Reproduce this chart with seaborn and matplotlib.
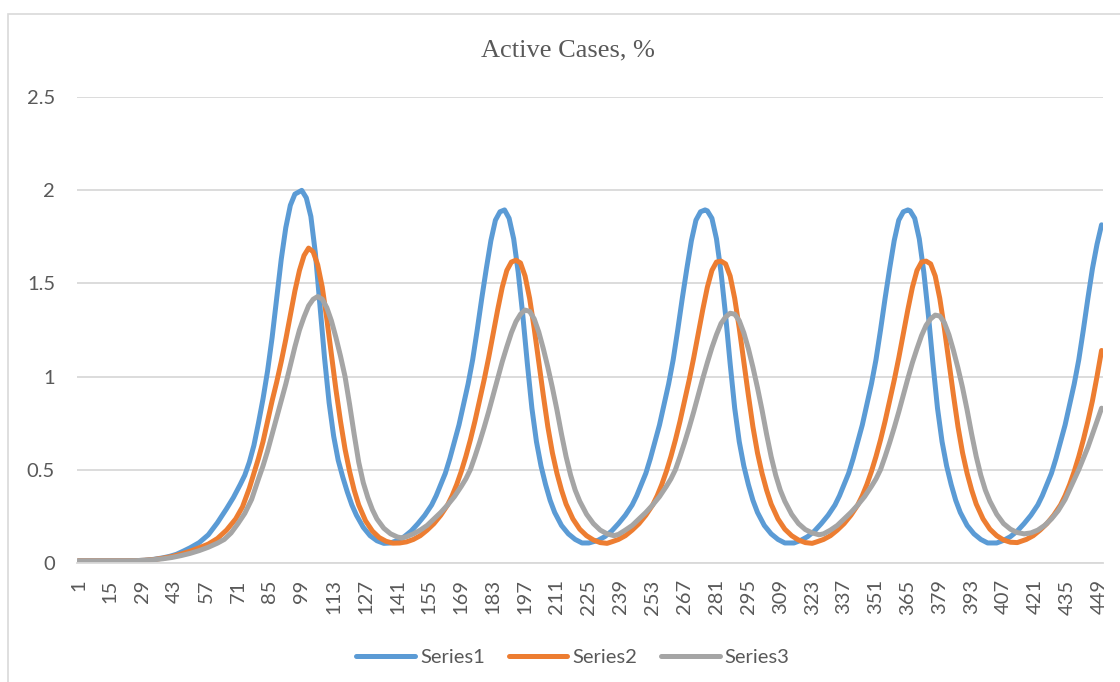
import matplotlib
matplotlib.use("Agg")
import matplotlib.pyplot as plt
from matplotlib.lines import Line2D
from matplotlib.patches import Rectangle
import pandas as pd
import seaborn as sns

# (day, active cases %) for each simulated series
series1_points = [
    (1, 0.010), (8, 0.010), (15, 0.010), (22, 0.010), (26, 0.011), (30, 0.013), (34, 0.018),
    (38, 0.026), (41, 0.034), (44, 0.045), (47, 0.062), (50, 0.080), (54, 0.108), (58, 0.150),
    (62, 0.215), (66, 0.290), (69, 0.350), (72, 0.420), (74, 0.470), (76, 0.540), (78, 0.630),
    (80, 0.750), (82, 0.880), (84, 1.030), (86, 1.210), (88, 1.420), (90, 1.630), (92, 1.800),
    (94, 1.920), (96, 1.980), (99, 2.000), (101, 1.960), (103, 1.860), (105, 1.660), (107, 1.380),
    (109, 1.100), (111, 0.860), (113, 0.680), (115, 0.550), (117, 0.460), (119, 0.380), (121, 0.310),
    (123, 0.255), (126, 0.190), (129, 0.145), (132, 0.118), (135, 0.104),
    (138, 0.106), (141, 0.120), (144, 0.140), (147, 0.170), (150, 0.210), (153, 0.255), (156, 0.310),
    (158, 0.360), (160, 0.420), (162, 0.480), (164, 0.560), (166, 0.650), (168, 0.740), (170, 0.850),
    (172, 0.960), (174, 1.090), (176, 1.250), (178, 1.420), (180, 1.580), (182, 1.730), (184, 1.840),
    (186, 1.885), (188, 1.895), (190, 1.850), (192, 1.740), (194, 1.560), (196, 1.330), (198, 1.070),
    (200, 0.830), (202, 0.650), (204, 0.520), (206, 0.420), (208, 0.335), (210, 0.270), (213, 0.200),
    (216, 0.155), (219, 0.125), (222, 0.106),
    (225, 0.106), (229, 0.120), (232, 0.140), (235, 0.170), (238, 0.210), (241, 0.255), (244, 0.310),
    (246, 0.360), (248, 0.420), (250, 0.480), (252, 0.560), (254, 0.650), (256, 0.740), (258, 0.850),
    (260, 0.960), (262, 1.090), (264, 1.250), (266, 1.420), (268, 1.580), (270, 1.730), (272, 1.840),
    (274, 1.885), (276, 1.895), (277, 1.890), (279, 1.850), (281, 1.740), (283, 1.560), (285, 1.330),
    (287, 1.070), (289, 0.830), (291, 0.650), (293, 0.520), (295, 0.420), (297, 0.335), (299, 0.270),
    (302, 0.200), (305, 0.155), (308, 0.125), (311, 0.106),
    (315, 0.106), (318, 0.120), (321, 0.140), (324, 0.170), (327, 0.210), (330, 0.255), (333, 0.310),
    (335, 0.360), (337, 0.420), (339, 0.480), (341, 0.560), (343, 0.650), (345, 0.740), (347, 0.850),
    (349, 0.960), (351, 1.090), (353, 1.250), (355, 1.420), (357, 1.580), (359, 1.730), (361, 1.840),
    (363, 1.885), (365, 1.895), (366, 1.890), (368, 1.850), (370, 1.740), (372, 1.560), (374, 1.330),
    (376, 1.070), (378, 0.830), (380, 0.650), (382, 0.520), (384, 0.420), (386, 0.335), (388, 0.270),
    (391, 0.200), (394, 0.155), (397, 0.125), (400, 0.106),
    (404, 0.106), (407, 0.120), (410, 0.140), (413, 0.170), (416, 0.210), (419, 0.255), (422, 0.310),
    (424, 0.360), (426, 0.420), (428, 0.480), (430, 0.560), (432, 0.650), (434, 0.740), (436, 0.850),
    (438, 0.960), (440, 1.090), (442, 1.250), (444, 1.420), (446, 1.580), (448, 1.710), (450, 1.815),
]

series2_points = [
    (1, 0.010), (8, 0.010), (15, 0.010), (22, 0.010), (26, 0.011), (30, 0.013), (34, 0.017),
    (38, 0.024), (42, 0.033), (46, 0.046), (50, 0.062), (54, 0.080), (58, 0.100), (62, 0.130),
    (66, 0.175), (70, 0.235), (73, 0.300), (76, 0.400), (78, 0.480), (80, 0.560), (82, 0.650),
    (84, 0.760), (86, 0.870), (88, 0.970), (90, 1.080), (92, 1.200), (94, 1.330), (96, 1.460),
    (98, 1.570), (100, 1.650), (102, 1.690), (104, 1.670), (106, 1.600), (108, 1.480), (110, 1.310),
    (112, 1.120), (114, 0.930), (116, 0.760), (118, 0.610), (120, 0.490), (122, 0.390), (124, 0.310),
    (127, 0.225), (130, 0.170), (133, 0.135), (136, 0.115), (139, 0.105),
    (142, 0.106), (145, 0.112), (148, 0.125), (151, 0.145), (154, 0.175), (157, 0.210), (160, 0.255),
    (163, 0.310), (165, 0.360), (167, 0.420), (169, 0.490), (171, 0.570), (173, 0.660), (175, 0.760),
    (177, 0.870), (179, 0.980), (181, 1.100), (183, 1.230), (185, 1.360), (187, 1.480), (189, 1.570),
    (191, 1.615), (193, 1.625), (195, 1.610), (197, 1.540), (199, 1.420), (201, 1.260), (203, 1.080),
    (205, 0.900), (207, 0.730), (209, 0.590), (211, 0.480), (213, 0.390), (215, 0.315), (218, 0.235),
    (221, 0.180), (224, 0.145), (227, 0.122), (230, 0.108), (233, 0.104),
    (235, 0.112), (238, 0.125), (241, 0.145), (244, 0.175), (247, 0.210), (250, 0.255), (253, 0.310),
    (255, 0.360), (257, 0.420), (259, 0.490), (261, 0.570), (263, 0.660), (265, 0.760), (267, 0.870),
    (269, 0.980), (271, 1.100), (273, 1.230), (275, 1.360), (277, 1.480), (279, 1.570), (281, 1.615),
    (283, 1.620), (285, 1.605), (287, 1.540), (289, 1.420), (291, 1.260), (293, 1.080), (295, 0.900),
    (297, 0.730), (299, 0.590), (301, 0.480), (303, 0.390), (305, 0.315), (308, 0.235), (311, 0.180),
    (314, 0.145), (317, 0.122), (320, 0.108), (323, 0.104),
    (325, 0.112), (328, 0.125), (331, 0.145), (334, 0.175), (337, 0.210), (340, 0.255), (343, 0.310),
    (345, 0.360), (347, 0.420), (349, 0.490), (351, 0.570), (353, 0.660), (355, 0.760), (357, 0.870),
    (359, 0.980), (361, 1.100), (363, 1.230), (365, 1.360), (367, 1.480), (369, 1.570), (371, 1.615),
    (373, 1.620), (375, 1.605), (377, 1.540), (379, 1.420), (381, 1.260), (383, 1.080), (385, 0.900),
    (387, 0.730), (389, 0.590), (391, 0.480), (393, 0.390), (395, 0.315), (398, 0.235), (401, 0.180),
    (404, 0.145), (407, 0.122), (410, 0.110), (413, 0.108),
    (417, 0.125), (420, 0.145), (423, 0.175), (426, 0.210), (429, 0.255), (432, 0.310), (434, 0.360),
    (436, 0.420), (438, 0.490), (440, 0.570), (442, 0.660), (444, 0.760), (446, 0.870), (448, 1.000),
    (450, 1.140),
]

series3_points = [
    (1, 0.010), (8, 0.010), (15, 0.010), (22, 0.010), (26, 0.011), (30, 0.013), (34, 0.016),
    (38, 0.021), (42, 0.028), (46, 0.038), (50, 0.050), (54, 0.065), (58, 0.083), (62, 0.105),
    (65, 0.125), (68, 0.160), (71, 0.210), (74, 0.265), (77, 0.340), (80, 0.450), (82, 0.520),
    (84, 0.600), (86, 0.690), (88, 0.780), (90, 0.870), (92, 0.960), (94, 1.060), (96, 1.160),
    (98, 1.250), (100, 1.320), (102, 1.380), (104, 1.415), (106, 1.430), (108, 1.415), (110, 1.370),
    (112, 1.300), (114, 1.210), (116, 1.110), (118, 1.000), (120, 0.850), (122, 0.690), (124, 0.540),
    (126, 0.430), (128, 0.350), (130, 0.285), (132, 0.235), (135, 0.185), (138, 0.155), (141, 0.138),
    (143, 0.133),
    (145, 0.140), (148, 0.155), (151, 0.175), (154, 0.200), (157, 0.235), (160, 0.270), (163, 0.310),
    (166, 0.355), (169, 0.410), (171, 0.450), (173, 0.500), (175, 0.570), (177, 0.645), (179, 0.725),
    (181, 0.810), (183, 0.900), (185, 0.990), (187, 1.080), (189, 1.160), (191, 1.235), (193, 1.295),
    (195, 1.335), (197, 1.357), (199, 1.350), (201, 1.310), (203, 1.240), (205, 1.150), (207, 1.050),
    (209, 0.940), (211, 0.820), (213, 0.690), (215, 0.570), (217, 0.470), (219, 0.390), (221, 0.330),
    (224, 0.260), (227, 0.210), (230, 0.175), (233, 0.155), (236, 0.145),
    (238, 0.152), (241, 0.175), (244, 0.200), (247, 0.235), (250, 0.270), (253, 0.310), (256, 0.355),
    (259, 0.410), (261, 0.450), (263, 0.500), (265, 0.570), (267, 0.645), (269, 0.725), (271, 0.810),
    (273, 0.900), (275, 0.990), (277, 1.075), (279, 1.155), (281, 1.225), (283, 1.285), (285, 1.320),
    (287, 1.340), (289, 1.335), (291, 1.300), (293, 1.235), (295, 1.150), (297, 1.050), (299, 0.940),
    (301, 0.820), (303, 0.690), (305, 0.570), (307, 0.470), (309, 0.390), (311, 0.330), (314, 0.260),
    (317, 0.210), (320, 0.178), (323, 0.160), (326, 0.150),
    (328, 0.155), (331, 0.175), (334, 0.200), (337, 0.235), (340, 0.270), (343, 0.310), (346, 0.355),
    (349, 0.410), (351, 0.450), (353, 0.500), (355, 0.570), (357, 0.645), (359, 0.725), (361, 0.810),
    (363, 0.900), (365, 0.990), (367, 1.075), (369, 1.150), (371, 1.220), (373, 1.275), (375, 1.310),
    (377, 1.330), (379, 1.325), (381, 1.290), (383, 1.225), (385, 1.140), (387, 1.045), (389, 0.940),
    (391, 0.820), (393, 0.690), (395, 0.570), (397, 0.470), (399, 0.390), (401, 0.330), (404, 0.260),
    (407, 0.210), (410, 0.180), (413, 0.162), (416, 0.155),
    (419, 0.160), (422, 0.175), (425, 0.200), (428, 0.235), (431, 0.280), (434, 0.340), (437, 0.420),
    (440, 0.500), (442, 0.560), (444, 0.620), (446, 0.690), (448, 0.760), (450, 0.830),
]

series_names = ["Series1", "Series2", "Series3"]
series_colors = ["#5B9BD5", "#ED7D31", "#A5A5A5"]
x_tick_days = list(range(1, 450, 14))
y_ticks = [0, 0.5, 1, 1.5, 2, 2.5]
y_tick_labels = ["0", "0.5", "1", "1.5", "2", "2.5"]
title_text = "Active Cases, %"

# long-form table for seaborn
frames = []
for name, pts in zip(series_names, [series1_points, series2_points, series3_points]):
    frames.append(pd.DataFrame(pts, columns=["day", "value"]).assign(series=name))
df = pd.concat(frames, ignore_index=True)

sns.set_theme(style="white")
plt.rcParams["font.family"] = ["Lato", "DejaVu Sans"]

text_gray = "#595959"
grid_gray = "#D9D9D9"
line_w = 3.6

W, H = 1120, 682
fig = plt.figure(figsize=(W / 100, H / 100), dpi=100)
fig.patch.set_facecolor("white")

# outer chart frame
fig.patches.append(Rectangle((7.5 / W, -0.05), 1.1, 1 - 13.5 / H + 0.05,
                             transform=fig.transFigure, fill=False,
                             edgecolor=grid_gray, linewidth=1.2, zorder=0))

left, right, top, bottom = 77.3, 1102.7, 97.3, 562.7
ax = fig.add_axes([left / W, 1 - bottom / H, (right - left) / W, (bottom - top) / H])

sns.lineplot(data=df, x="day", y="value", hue="series", hue_order=series_names,
             palette=series_colors, linewidth=line_w, estimator=None, sort=False,
             legend=False, ax=ax)
for ln in ax.lines:
    ln.set_solid_capstyle("round")
    ln.set_solid_joinstyle("round")

ax.set_xlim(0.5, 450.5)
ax.set_ylim(0, 2.5)
ax.set_xticks(x_tick_days)
ax.set_xticklabels([str(d) for d in x_tick_days], rotation=90, va="top", ha="center")
ax.set_yticks(y_ticks)
ax.set_yticklabels(y_tick_labels)
ax.set_xlabel("")
ax.set_ylabel("")

ax.grid(axis="y", color=grid_gray, linewidth=1.3)
ax.grid(axis="x", visible=False)
ax.set_axisbelow(True)
for side in ["left", "right", "top"]:
    ax.spines[side].set_visible(False)
ax.spines["bottom"].set_color(grid_gray)
ax.spines["bottom"].set_linewidth(1.3)

ax.tick_params(axis="x", length=0, pad=12, labelsize=14.5, labelcolor=text_gray)
ax.tick_params(axis="y", length=0, pad=16, labelsize=14.5, labelcolor=text_gray)

fig.text(568 / W, 1 - 50 / H, title_text, ha="center", va="center",
         family=["Liberation Serif", "DejaVu Serif"], fontsize=19, color=text_gray)

handles = [Line2D([0], [0], color=c, linewidth=line_w, solid_capstyle="round")
           for c in series_colors]
leg = fig.legend(handles, series_names, loc="center", bbox_to_anchor=(573 / W, 1 - 657 / H),
                 ncol=3, frameon=False, fontsize=14.5, handlelength=2.9,
                 handletextpad=0.25, columnspacing=1.2, borderaxespad=0)
for t in leg.get_texts():
    t.set_color(text_gray)

fig.savefig("out.png", dpi=100, facecolor="white")
